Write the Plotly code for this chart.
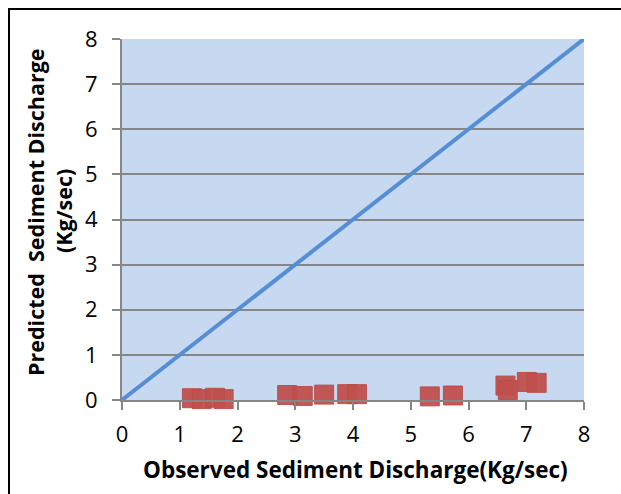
import plotly.graph_objects as go

# Observed vs predicted sediment discharge (Kg/sec)
observed = [1.21, 1.38, 1.61, 1.76, 2.86, 3.13, 3.50, 3.90, 4.07,
            5.33, 5.73, 6.64, 6.68, 7.01, 7.18]
predicted = [0.04, 0.02, 0.05, 0.02, 0.11, 0.09, 0.12, 0.13, 0.13,
             0.08, 0.10, 0.32, 0.22, 0.40, 0.38]

# 1:1 reference line
line_x = [0, 8]
line_y = [0, 8]

tick_vals = [0, 1, 2, 3, 4, 5, 6, 7, 8]

W, H = 621, 494
L, R, T, B = 122, 37, 39, 94
pw, ph = W - L - R, H - T - B


def px_to_paper_x(px):
    return (px - L) / pw


def px_to_paper_y(py):
    return (H - B - py) / ph


fig = go.Figure()
fig.add_trace(go.Scatter(
    x=line_x, y=line_y, mode="lines",
    line=dict(color="#558ED5", width=4),
    hoverinfo="skip", showlegend=False,
))
fig.add_trace(go.Scatter(
    x=observed, y=predicted, mode="markers",
    marker=dict(symbol="square", size=19, color="rgba(192,80,77,0.95)",
                line=dict(color="rgba(185,75,72,0.9)", width=1)),
    showlegend=False, cliponaxis=False,
))

title_font = "'Open Sans', sans-serif"
tick_font = "'Open Sans', sans-serif"

fig.update_layout(
    width=W, height=H,
    margin=dict(l=L, r=R, t=T, b=B),
    paper_bgcolor="white",
    plot_bgcolor="#C6D9F0",
    font=dict(family=tick_font, color="black", size=22),
    xaxis=dict(
        range=[0, 8], tickvals=tick_vals, showgrid=False, zeroline=False,
        showline=True, linecolor="#868686", linewidth=2,
        ticks="outside", ticklen=8, tickcolor="#868686", tickwidth=2,
        tickfont=dict(size=22), ticklabelstandoff=6, fixedrange=True,
    ),
    yaxis=dict(
        range=[0, 8], tickvals=tick_vals, showgrid=True, gridcolor="#868686",
        gridwidth=1.5, zeroline=False,
        showline=True, linecolor="#868686", linewidth=2,
        ticks="outside", ticklen=8, tickcolor="#868686", tickwidth=2,
        tickfont=dict(size=22), ticklabelstandoff=10, fixedrange=True,
    ),
    annotations=[
        dict(text="<b>Observed Sediment Discharge(Kg/sec)</b>",
             x=px_to_paper_x(355), y=px_to_paper_y(469),
             xref="paper", yref="paper", showarrow=False,
             xanchor="center", yanchor="middle",
             font=dict(size=22.5, family=title_font)),
        dict(text="<b>Predicted  Sediment Discharge</b>",
             x=px_to_paper_x(35), y=px_to_paper_y(212),
             xref="paper", yref="paper", showarrow=False, textangle=-90,
             xanchor="center", yanchor="middle",
             font=dict(size=21.5, family=title_font)),
        dict(text="<b>(Kg/sec)</b>",
             x=px_to_paper_x(63), y=px_to_paper_y(211),
             xref="paper", yref="paper", showarrow=False, textangle=-90,
             xanchor="center", yanchor="middle",
             font=dict(size=21.5, family=title_font)),
    ],
    shapes=[
        dict(type="line", xref="paper", yref="paper",
             x0=px_to_paper_x(9), x1=px_to_paper_x(9),
             y0=px_to_paper_y(9), y1=px_to_paper_y(H + 5),
             line=dict(color="black", width=2)),
        dict(type="line", xref="paper", yref="paper",
             x0=px_to_paper_x(8), x1=px_to_paper_x(W + 5),
             y0=px_to_paper_y(9), y1=px_to_paper_y(9),
             line=dict(color="black", width=2)),
    ],
)

fig.write_html("out.html")
